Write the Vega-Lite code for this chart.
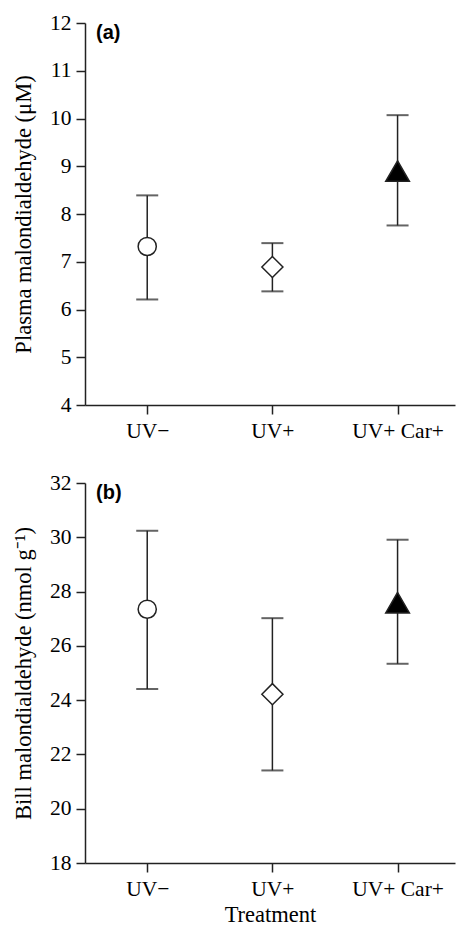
{
  "$schema": "https://vega.github.io/schema/vega-lite/v6.json",
  "padding": {"left": 12, "top": 12, "right": 3, "bottom": 0},
  "background": "white",
  "spacing": 30,
  "datasets": {
    "plasma": [
      {"treatment": "UV−", "mean": 7.32, "lower": 6.21, "upper": 8.39},
      {"treatment": "UV+", "mean": 6.89, "lower": 6.38, "upper": 7.39},
      {"treatment": "UV+ Car+", "mean": 8.90, "lower": 7.76, "upper": 10.07}
    ],
    "bill": [
      {"treatment": "UV−", "mean": 27.35, "lower": 24.41, "upper": 30.24},
      {"treatment": "UV+", "mean": 24.22, "lower": 21.41, "upper": 27.02},
      {"treatment": "UV+ Car+", "mean": 27.59, "lower": 25.34, "upper": 29.91}
    ]
  },
  "config": {
    "view": {"stroke": null},
    "axis": {
      "labelFont": "Liberation Serif",
      "labelFontSize": 21.5,
      "labelColor": "black",
      "titleFont": "Liberation Serif",
      "titleFontSize": 22.5,
      "titleFontWeight": "normal",
      "titleColor": "black",
      "domainColor": "#222",
      "tickColor": "#222",
      "domainWidth": 1.5,
      "tickWidth": 1.5,
      "tickSize": 9,
      "grid": false,
      "labelPadding": 5
    },
    "title": {
      "font": "Liberation Sans",
      "fontSize": 20,
      "fontWeight": "bold",
      "color": "black",
      "anchor": "start",
      "frame": "group",
      "baseline": "middle",
      "offset": 0
    }
  },
  "vconcat": [
    {
      "width": 370,
      "height": 382,
      "data": {"name": "plasma"},
      "title": {"text": "(a)", "dx": 11, "dy": 35},
      "encoding": {
        "x": {
          "field": "treatment", "type": "nominal", "sort": ["UV−", "UV+", "UV+ Car+"],
          "scale": {"type": "point", "padding": 0.478, "align": 0.52},
          "axis": {"title": null, "labelAngle": 0, "labelPadding": 6}
        }
      },
      "layer": [
        {
          "mark": {"type": "rule", "color": "#222", "strokeWidth": 1.5},
          "encoding": {
            "y": {"field": "lower", "type": "quantitative",
              "scale": {"domain": [4, 12], "nice": false, "zero": false},
              "axis": {"title": "Plasma malondialdehyde (μM)", "values": [4,5,6,7,8,9,10,11,12], "titlePadding": 14}},
            "y2": {"field": "upper"}
          }
        },
        {
          "mark": {"type": "tick", "orient": "horizontal", "color": "#222", "thickness": 2, "size": 22},
          "encoding": {"y": {"field": "lower", "type": "quantitative"}}
        },
        {
          "mark": {"type": "tick", "orient": "horizontal", "color": "#222", "thickness": 2, "size": 22},
          "encoding": {"y": {"field": "upper", "type": "quantitative"}}
        },
        {
          "mark": {"type": "point", "filled": true, "stroke": "#222", "strokeWidth": 1.5, "opacity": 1},
          "encoding": {
            "y": {"field": "mean", "type": "quantitative"},
            "shape": {"field": "treatment", "type": "nominal",
              "scale": {"domain": ["UV−", "UV+", "UV+ Car+"], "range": ["circle", "diamond", "triangle-up"]}, "legend": null},
            "fill": {"field": "treatment", "type": "nominal",
              "scale": {"domain": ["UV−", "UV+", "UV+ Car+"], "range": ["white", "white", "black"]}, "legend": null},
            "size": {"field": "treatment", "type": "nominal",
              "scale": {"domain": ["UV−", "UV+", "UV+ Car+"], "range": [330, 560, 500]}, "legend": null}
          }
        }
      ]
    },
    {
      "width": 370,
      "height": 380,
      "data": {"name": "bill"},
      "title": {"text": "(b)", "dx": 11, "dy": 35},
      "encoding": {
        "x": {
          "field": "treatment", "type": "nominal", "sort": ["UV−", "UV+", "UV+ Car+"],
          "scale": {"type": "point", "padding": 0.478, "align": 0.52},
          "axis": {"title": "Treatment", "labelAngle": 0, "labelPadding": 6, "titlePadding": 4}
        }
      },
      "layer": [
        {
          "mark": {"type": "rule", "color": "#222", "strokeWidth": 1.5},
          "encoding": {
            "y": {"field": "lower", "type": "quantitative",
              "scale": {"domain": [18, 32], "nice": false, "zero": false},
              "axis": {"title": "Bill malondialdehyde (nmol g⁻¹)", "values": [18,20,22,24,26,28,30,32], "titlePadding": 14}},
            "y2": {"field": "upper"}
          }
        },
        {
          "mark": {"type": "tick", "orient": "horizontal", "color": "#222", "thickness": 2, "size": 22},
          "encoding": {"y": {"field": "lower", "type": "quantitative"}}
        },
        {
          "mark": {"type": "tick", "orient": "horizontal", "color": "#222", "thickness": 2, "size": 22},
          "encoding": {"y": {"field": "upper", "type": "quantitative"}}
        },
        {
          "mark": {"type": "point", "filled": true, "stroke": "#222", "strokeWidth": 1.5, "opacity": 1},
          "encoding": {
            "y": {"field": "mean", "type": "quantitative"},
            "shape": {"field": "treatment", "type": "nominal",
              "scale": {"domain": ["UV−", "UV+", "UV+ Car+"], "range": ["circle", "diamond", "triangle-up"]}, "legend": null},
            "fill": {"field": "treatment", "type": "nominal",
              "scale": {"domain": ["UV−", "UV+", "UV+ Car+"], "range": ["white", "white", "black"]}, "legend": null},
            "size": {"field": "treatment", "type": "nominal",
              "scale": {"domain": ["UV−", "UV+", "UV+ Car+"], "range": [330, 560, 500]}, "legend": null}
          }
        }
      ]
    }
  ]
}
